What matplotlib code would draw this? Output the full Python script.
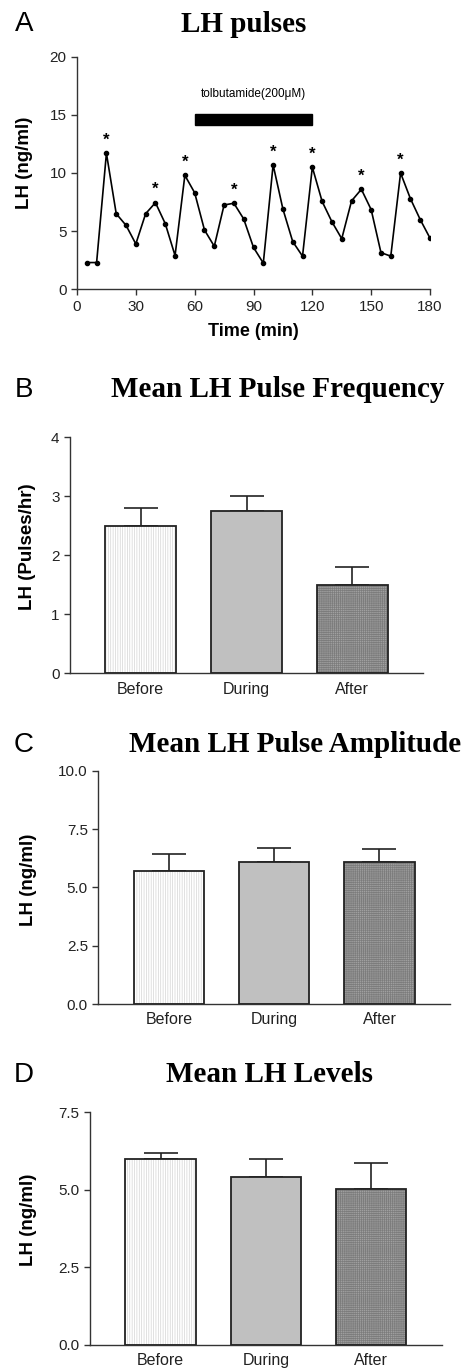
import numpy as np
import matplotlib
matplotlib.use("Agg")
import matplotlib.pyplot as plt
from matplotlib.patches import Rectangle

# panel A: LH pulses, sampled every 5 min
time_min = [5, 10, 15, 20, 25, 30, 35, 40, 45, 50, 55, 60, 65, 70, 75, 80, 85, 90,
            95, 100, 105, 110, 115, 120, 125, 130, 135, 140, 145, 150, 155, 160, 165, 170, 175, 180]
lh_level = [2.3, 2.3, 11.7, 6.5, 5.5, 3.9, 6.5, 7.45, 5.65, 2.9, 9.8, 8.3, 5.1, 3.7, 7.25, 7.4, 6.05, 3.6,
            2.25, 10.7, 6.9, 4.1, 2.85, 10.5, 7.55, 5.8, 4.35, 7.6, 8.6, 6.85, 3.15, 2.85, 10.0, 7.8, 6.0, 4.4]
pulse_peaks = [15, 40, 55, 80, 100, 120, 145, 165]

# panels B-D
groups = ["Before", "During", "After"]
freq_mean = [2.5, 2.75, 1.5]
freq_sem = [0.3, 0.25, 0.3]
amp_mean = [5.72, 6.08, 6.07]
amp_sem = [0.7, 0.62, 0.57]
level_mean = [6.0, 5.4, 5.04]
level_sem = [0.2, 0.6, 0.83]

W, H = 466, 1371
fig = plt.figure(figsize=(W / 100, H / 100), dpi=100)

sans = "Liberation Sans"
serif = "Liberation Serif"
plt.rcParams["font.family"] = sans
plt.rcParams["hatch.linewidth"] = 0.5


def add_ax(l, t, r, b):
    return fig.add_axes([l / W, 1 - b / H, (r - l) / W, (b - t) / H])


def style(ax):
    for s in ["top", "right"]:
        ax.spines[s].set_visible(False)
    for s in ["left", "bottom"]:
        ax.spines[s].set_linewidth(1.0)
        ax.spines[s].set_color("#333333")
    ax.tick_params(direction="out", length=4, width=1.0, color="#333333",
                   labelsize=11, labelcolor="#222222")


def panel_text(letter, title, y, x_title):
    fig.text(24 / W, 1 - y / H, letter, fontsize=20, family=sans,
             ha="center", va="center")
    fig.text(x_title / W, 1 - y / H, title, fontsize=21, family=serif,
             fontweight="bold", ha="center", va="center")


# ---- A ----
ax = add_ax(77, 56.7, 430, 289.3)
style(ax)
ax.plot(time_min, lh_level, color="black", lw=1.2, marker="o", ms=3)
for p in pulse_peaks:
    ax.annotate("*", (p, lh_level[time_min.index(p)]), xytext=(0, 4),
                textcoords="offset points", ha="center", va="bottom",
                fontsize=12, fontweight="bold")
ax.add_patch(Rectangle((60, 14.1), 60, 1.0, color="black", clip_on=False))
ax.text(90, 16.8, "tolbutamide(200\u03bcM)", ha="center", va="center", fontsize=8.5)
ax.set_xlim(0, 180)
ax.set_ylim(0, 20)
ax.set_xticks(range(0, 181, 30))
ax.set_yticks(range(0, 21, 5))
ax.set_xlabel("Time (min)", fontsize=13, fontweight="bold", labelpad=7)
ax.set_ylabel("LH (ng/ml)", fontsize=13.5, fontweight="bold")
ax.yaxis.set_label_coords((33 - 77) / (430 - 77), (289.3 - 163) / (289.3 - 56.7))
panel_text("A", "LH pulses", 24, 244)


def bar_panel(rect, means, sems, ylim, yticks, fmt, ylabel, label_xy):
    l, t, r, b = rect
    ax = add_ax(l, t, r, b)
    style(ax)
    x = np.arange(len(groups))
    w = 0.67
    ax.errorbar(x, means, yerr=[[0] * len(sems), sems], fmt="none", ecolor="#222222",
                elinewidth=1.2, capsize=12, capthick=1.2, zorder=1)
    ax.bar(x, means, w, color=["white", "#c0c0c0", "#a0a0a0"], edgecolor=["#d4d4d4", "#c0c0c0", "#7c7c7c"],
           hatch=["|||||||", "", "++++++++"], linewidth=0, zorder=2)
    ax.bar(x, means, w, fill=False, edgecolor="#222222", linewidth=1.3, zorder=3)
    ax.set_xlim(-0.67, 2.67)
    ax.set_ylim(*ylim)
    ax.set_yticks(yticks)
    ax.set_yticklabels([fmt.format(v) for v in yticks])
    ax.set_xticks(x)
    ax.set_xticklabels(groups, fontsize=11.5)
    ax.tick_params(axis="x", length=0, pad=6)
    ax.set_ylabel(ylabel, fontsize=13.5, fontweight="bold")
    lx, ly = label_xy
    ax.yaxis.set_label_coords((lx - l) / (r - l), (b - ly) / (b - t))
    return ax


# ---- B ----
bar_panel((70, 437.3, 423, 673.3), freq_mean, freq_sem, (0, 4), [0, 1, 2, 3, 4], "{:g}",
          "LH (Pulses/hr)", (36, 547))
panel_text("B", "Mean LH Pulse Frequency", 390, 278)

# ---- C ----
bar_panel((98.3, 770.7, 450, 1004), amp_mean, amp_sem, (0, 10), [0, 2.5, 5, 7.5, 10], "{:.1f}",
          "LH (ng/ml)", (37, 880))
panel_text("C", "Mean LH Pulse Amplitude", 745, 295)

# ---- D ----
bar_panel((90, 1112.3, 441.7, 1345), level_mean, level_sem, (0, 7.5), [0, 2.5, 5, 7.5], "{:.1f}",
          "LH (ng/ml)", (37, 1220))
panel_text("D", "Mean LH Levels", 1075, 269)

fig.savefig("out.png", dpi=100)
